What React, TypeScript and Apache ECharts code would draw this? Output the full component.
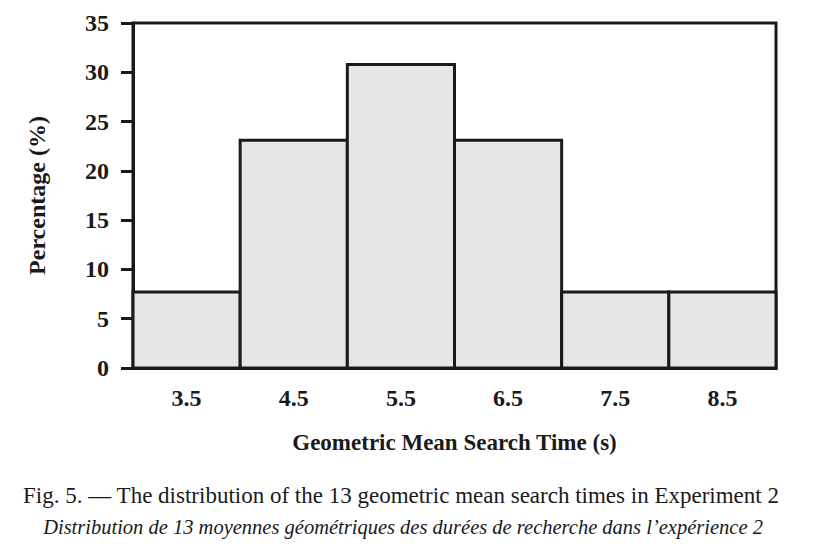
import React, { useEffect, useRef } from "react";
import * as echarts from "echarts";

const binLabels = ["3.5", "4.5", "5.5", "6.5", "7.5", "8.5"];
const percentages = [7.7, 23.1, 30.8, 23.1, 7.7, 7.7];
const captionEn =
  "Fig. 5. \u2014 The distribution of the 13 geometric mean search times in Experiment 2";
const captionFr =
  "Distribution de 13 moyennes g\u00e9om\u00e9triques des dur\u00e9es de recherche dans l\u2019exp\u00e9rience 2";

const INK = "#1a1a1a";
const SERIF = "'Liberation Serif', 'DejaVu Serif', serif";

const App = () => {
  const chartRef = useRef<HTMLDivElement>(null);

  // eslint-disable-next-line consistent-return
  useEffect(() => {
    if (chartRef.current) {
      const chart = echarts.init(chartRef.current, undefined, { renderer: "svg" });
      const options: echarts.EChartsOption = {
        animation: false,
        backgroundColor: "#ffffff",
        grid: {
          left: 133,
          top: 23,
          right: 37,
          bottom: 186,
          show: true,
          borderColor: INK,
          borderWidth: 3,
        },
        xAxis: {
          type: "category",
          data: binLabels,
          boundaryGap: true,
          name: "Geometric Mean Search Time (s)",
          nameLocation: "middle",
          nameGap: 63,
          nameTextStyle: {
            fontFamily: SERIF,
            fontSize: 23,
            fontWeight: "bold",
            color: INK,
          },
          axisLine: { lineStyle: { color: INK, width: 3 } },
          axisTick: { length: 12, lineStyle: { color: INK, width: 3 } },
          axisLabel: {
            margin: 18,
            fontFamily: SERIF,
            fontSize: 24,
            fontWeight: "bold",
            color: INK,
          },
        },
        yAxis: {
          type: "value",
          min: 0,
          max: 35,
          interval: 5,
          name: "Percentage (%)",
          nameLocation: "middle",
          nameGap: 84,
          nameTextStyle: {
            fontFamily: SERIF,
            fontSize: 24,
            fontWeight: "bold",
            color: INK,
          },
          splitLine: { show: false },
          axisLine: { show: true, lineStyle: { color: INK, width: 3 } },
          axisTick: { show: true, length: 12, lineStyle: { color: INK, width: 3 } },
          axisLabel: {
            margin: 24,
            fontFamily: SERIF,
            fontSize: 24,
            fontWeight: "bold",
            color: INK,
          },
        },
        series: [
          {
            type: "custom",
            data: percentages.map((v, i) => [i, v]),
            encode: { x: 0, y: 1 },
            renderItem: (params: any, api: any) => {
              const idx = api.value(0);
              const top = api.coord([idx, api.value(1)]);
              const base = api.coord([idx, 0]);
              const w = api.size([1, 0])[0];
              return {
                type: "rect",
                shape: {
                  x: top[0] - w / 2,
                  y: top[1],
                  width: w,
                  height: base[1] - top[1],
                },
                style: { fill: "#e6e6e6", stroke: INK, lineWidth: 3 },
              };
            },
          },
        ],
        graphic: [
          {
            type: "text",
            x: 401,
            y: 495,
            style: {
              text: captionEn,
              fontFamily: SERIF,
              fontSize: 23,
              fill: INK,
              align: "center",
              verticalAlign: "middle",
            },
          },
          {
            type: "text",
            x: 403,
            y: 527,
            style: {
              text: captionFr,
              fontFamily: SERIF,
              fontSize: 20.5,
              fontStyle: "italic",
              fill: INK,
              align: "center",
              verticalAlign: "middle",
            },
          },
        ],
      };
      chart.setOption(options);
      return () => {
        chart.dispose();
      };
    }
  }, []);

  return (
    <div
      ref={chartRef}
      style={{ position: "absolute", left: 0, top: 0, width: "813px", height: "554px" }}
    />
  );
};

export default App;
